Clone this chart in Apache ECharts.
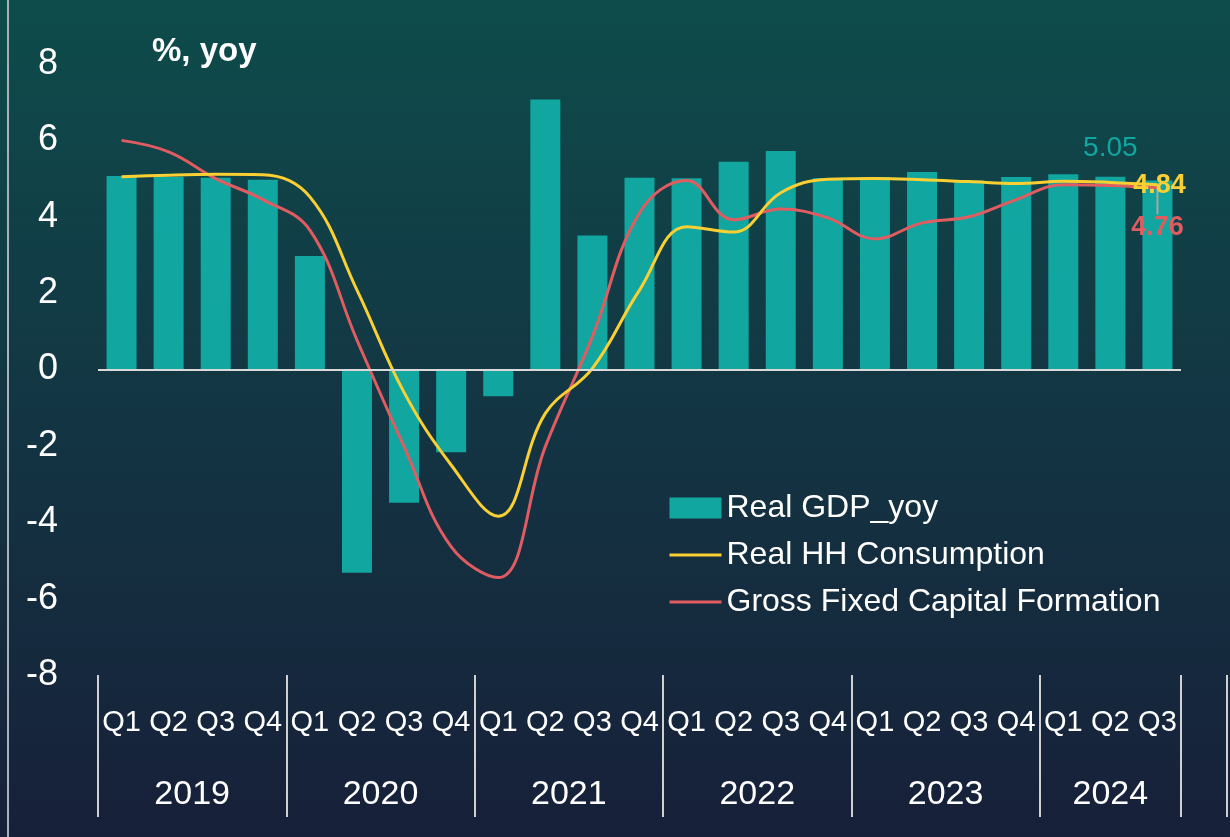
<!DOCTYPE html>
<html>
<head>
<meta charset="utf-8">
<title>Real GDP, consumption and investment, %, yoy</title>
<script src="https://cdn.jsdelivr.net/npm/echarts@6/dist/echarts.min.js"></script>
<style>
    html, body { margin: 0; padding: 0; background: #13303f; }
    #main { width: 1230px; height: 837px; }
</style>
</head>
<body>
<div id="main"></div>
<script>
// categories
var quarters = [
    'Q1', 'Q2', 'Q3', 'Q4', 'Q1', 'Q2', 'Q3', 'Q4', 'Q1', 'Q2', 'Q3', 'Q4',
    'Q1', 'Q2', 'Q3', 'Q4', 'Q1', 'Q2', 'Q3', 'Q4', 'Q1', 'Q2', 'Q3'
];
var years = ['2019', '2020', '2021', '2022', '2023', '2024'];
var yearBounds = [0, 4, 8, 12, 16, 20, 23];     // group separators (in quarters)
var yearMids = [2, 6, 10, 14, 18, 21.5];        // where each year label sits

// series values, %, yoy
var gdp = [
    5.07, 5.05, 5.02, 4.97,
    2.97, -5.32, -3.49, -2.17,
    -0.70, 7.07, 3.51, 5.02,
    5.01, 5.44, 5.72, 5.01,
    5.04, 5.17, 4.94, 5.04,
    5.11, 5.05, 4.95
];
var hhCons = [
    5.05, 5.09, 5.11, 5.10,
    4.52, 2.08, -0.60, -2.50,
    -3.84, -1.15, 0.03, 2.08,
    3.74, 3.60, 4.63, 4.98,
    5.00, 4.97, 4.92, 4.87,
    4.93, 4.90, 4.84
];
var gfcf = [
    6.00, 5.70, 5.00, 4.45,
    3.65, 0.77, -2.02, -4.64,
    -5.45, -2.02, 0.86, 4.10,
    4.95, 3.92, 4.20, 3.97,
    3.42, 3.84, 4.00, 4.45,
    4.84, 4.82, 4.76
];

// y axis ticks
var yMin = -8, yMax = 8, yStep = 2;

var font = "'Liberation Sans', Arial, sans-serif";
var teal = '#11a6a0', yellow = '#f9cf33', red = '#e05c61';

var chart = {};

chart.init = function () {
    chart.render();
};

chart.gdpData = function () {
    var last = 21; // label shown on Q2 2024 only
    return gdp.map(function (v, i) {
        if (i !== last) return v;
        return {
            value: v,
            label: {
                show: true, position: 'top', distance: 14,
                color: teal, fontSize: 28, fontFamily: font,
                formatter: function (p) { return p.value.toFixed(2); }
            }
        };
    });
};

chart.lineData = function (arr, color, offset) {
    var n = arr.length - 1;
    return arr.map(function (v, i) {
        if (i !== n) return v;
        return {
            value: v,
            symbol: 'circle',
            symbolSize: 1,
            label: {
                show: true, position: 'inside', offset: offset || [2, 0],
                color: color, fontSize: 27, fontWeight: 'bold', fontFamily: font,
                formatter: function (p) { return p.value.toFixed(2); }
            }
        };
    });
};

chart.render = function () {
    var myChart = echarts.init(document.getElementById('main'));
    var option = {
        backgroundColor: new echarts.graphic.LinearGradient(0, 0, 0, 1, [
            { offset: 0, color: '#0e4c4b' },
            { offset: 0.5, color: '#133543' },
            { offset: 1, color: '#172039' }
        ]),
        animation: false,
        title: {
            text: '%, yoy',
            left: 147,
            top: 30,
            textStyle: { color: '#ffffff', fontSize: 33, fontWeight: 'bold', fontFamily: font }
        },
        legend: {
            orient: 'vertical',
            left: 663,
            top: 485,
            itemWidth: 52,
            itemHeight: 21,
            itemGap: 11,
            textStyle: { color: '#ffffff', fontSize: 32, lineHeight: 36, fontFamily: font },
            data: [
                { name: 'Real GDP_yoy', icon: 'rect' },
                { name: 'Real HH Consumption', itemStyle: { opacity: 0 }, lineStyle: { width: 3 } },
                { name: 'Gross Fixed Capital Formation', itemStyle: { opacity: 0 }, lineStyle: { width: 3 } }
            ]
        },
        grid: { left: 98, right: 49, top: 64, bottom: 162, containLabel: false },
        xAxis: [{
            type: 'category',
            data: quarters,
            boundaryGap: true,
            axisLine: { show: false },
            axisTick: { show: false },
            axisLabel: { color: '#ffffff', fontSize: 29, fontFamily: font, margin: 33, interval: 0 },
            splitLine: { show: false }
        }, {
            type: 'value',
            min: 0,
            max: quarters.length,
            position: 'bottom',
            axisLine: { show: false },
            axisTick: {
                show: true, length: 142, customValues: yearBounds,
                lineStyle: { color: '#d0d0d0', width: 2 }
            },
            axisLabel: {
                color: '#ffffff', fontSize: 34, fontFamily: font, margin: 103,
                customValues: yearMids,
                formatter: function (v) { return years[yearMids.indexOf(v)] || ''; }
            },
            splitLine: { show: false }
        }],
        yAxis: {
            type: 'value',
            min: yMin,
            max: yMax,
            interval: yStep,
            axisLine: { show: false },
            axisTick: { show: false },
            splitLine: { show: false },
            axisLabel: { color: '#ffffff', fontSize: 36, fontFamily: font, margin: 40 }
        },
        series: [{
            name: 'Real GDP_yoy',
            type: 'bar',
            xAxisIndex: 0,
            barWidth: 30,
            itemStyle: { color: teal },
            data: chart.gdpData(),
            markLine: {
                silent: true,
                symbol: ['none', 'none'],
                label: { show: false },
                lineStyle: { color: '#d9d9d9', width: 2, type: 'solid' },
                data: [{ yAxis: 0 }]
            },
            z: 1
        }, {
            name: 'Real HH Consumption',
            type: 'line',
            xAxisIndex: 0,
            smooth: 0.4,
            symbol: 'none',
            lineStyle: { color: yellow, width: 3 },
            itemStyle: { color: yellow },
            data: chart.lineData(hhCons, yellow, [2, 1]),
            z: 3
        }, {
            name: 'Gross Fixed Capital Formation',
            type: 'line',
            xAxisIndex: 0,
            smooth: 0.4,
            symbol: 'none',
            lineStyle: { color: red, width: 3 },
            itemStyle: { color: red },
            data: chart.lineData(gfcf, red, [3, 0]),
            labelLayout: { dy: 40 },
            labelLine: { show: true, lineStyle: { color: '#a6a6a6', width: 2 } },
            z: 2
        }],
        graphic: [{
            type: 'line',
            shape: { x1: 8, y1: 0, x2: 8, y2: 837 },
            style: { stroke: '#a9b3b6', lineWidth: 2 }
        }, {
            type: 'line',
            shape: { x1: 1227, y1: 675, x2: 1227, y2: 817 },
            style: { stroke: '#d0d0d0', lineWidth: 2 }
        }]
    };
    myChart.setOption(option);
};

chart.init();
</script>
</body>
</html>
